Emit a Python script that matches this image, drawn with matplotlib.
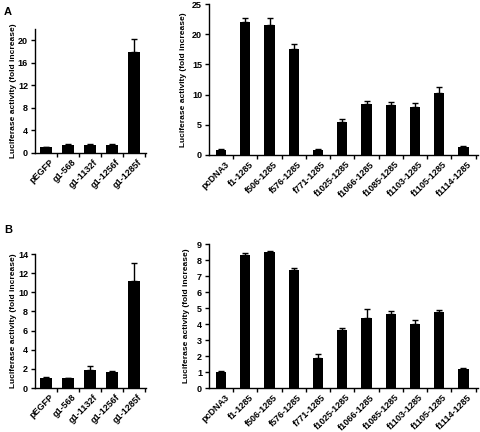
import matplotlib
matplotlib.use("Agg")
import matplotlib.pyplot as plt

# panel A, left (g1 constructs)
g1_labels = ["pEGFP", "g1-568", "g1-1132f", "g1-1256f", "g1-1285f"]
a_g1 = [1.0, 1.45, 1.5, 1.4, 18.0]
a_g1_err = [0.15, 0.1, 0.1, 0.15, 2.2]

# panel A, right (f constructs)
f_labels = ["pcDNA3", "f1-1285", "f506-1285", "f576-1285", "f771-1285",
            "f1025-1285", "f1066-1285", "f1085-1285", "f1103-1285",
            "f1105-1285", "f1114-1285"]
a_f = [0.9, 22.0, 21.5, 17.6, 0.8, 5.5, 8.4, 8.3, 8.0, 10.2, 1.3]
a_f_err = [0.15, 0.7, 1.1, 0.7, 0.15, 0.4, 0.6, 0.5, 0.6, 1.1, 0.2]

# panel B
b_g1 = [1.0, 1.0, 1.85, 1.65, 11.2]
b_g1_err = [0.2, 0.05, 0.45, 0.1, 1.85]
b_f = [0.97, 8.3, 8.5, 7.35, 1.9, 3.65, 4.35, 4.6, 4.0, 4.75, 1.2]
b_f_err = [0.08, 0.15, 0.07, 0.17, 0.25, 0.07, 0.6, 0.2, 0.25, 0.15, 0.08]

W, H = 480, 432
FONT = "Liberation Sans"
YLABEL = "Luciferase activity (fold increase)"


def px_axes(fig, left, top, right, bottom):
    return fig.add_axes([left / W, (H - bottom) / H, (right - left) / W, (bottom - top) / H])


def draw(ax, labels, vals, errs, ymax, yticks, width, xmax, lpad):
    x = list(range(len(vals)))
    ax.bar(x, vals, width=width, color="black", zorder=2)
    ax.errorbar(x, vals, yerr=[[0] * len(errs), errs], fmt="none",
                ecolor="black", elinewidth=1, capsize=2.5, capthick=1)
    ax.set_ylim(0, ymax)
    ax.set_xlim(-0.5, xmax)
    ax.set_yticks(yticks)
    ax.set_yticklabels([str(t) for t in yticks], fontsize=6.5,
                       fontweight="bold", family=FONT)
    ax.set_xticks([i + 0.5 for i in x])
    ax.set_xticklabels([])
    ax.tick_params(axis="x", length=3, width=1, direction="out")
    ax.tick_params(axis="y", length=3, width=1, direction="out", pad=2)
    for i, lab in enumerate(labels):
        ax.annotate(lab, xy=(i, 0), xycoords=("data", "axes fraction"),
                    xytext=(2.5, -3.5), textcoords="offset points",
                    rotation=45, ha="right", va="top", rotation_mode="anchor",
                    fontsize=6.5, fontweight="bold", family=FONT)
    for s in ["top", "right"]:
        ax.spines[s].set_visible(False)
    for s in ["left", "bottom"]:
        ax.spines[s].set_linewidth(1)
    ax.set_ylabel(YLABEL, fontsize=6, fontweight="bold", family=FONT, labelpad=lpad)


fig = plt.figure(figsize=(W / 100, H / 100), dpi=100)

ax1 = px_axes(fig, 35, 29, 146, 153)
draw(ax1, g1_labels, a_g1, a_g1_err, 22, [0, 4, 8, 12, 16, 20], 0.55, 4.55, 0.5)
ax2 = px_axes(fig, 209, 4, 478, 155)
draw(ax2, f_labels, a_f, a_f_err, 25, [0, 5, 10, 15, 20, 25], 0.42, 10.6, 3.5)
ax3 = px_axes(fig, 35, 254, 146, 388)
draw(ax3, g1_labels, b_g1, b_g1_err, 14, [0, 2, 4, 6, 8, 10, 12, 14], 0.55, 4.55, 0.5)
ax4 = px_axes(fig, 209, 244, 478, 388)
draw(ax4, f_labels, b_f, b_f_err, 9, list(range(10)), 0.42, 10.6, 5)

fig.text(4 / W, 1 - 12 / H, "A", fontsize=8, fontweight="bold", family=FONT, va="center")
fig.text(4 / W, 1 - 230 / H, "B", fontsize=8, fontweight="bold", family=FONT, va="center")

fig.savefig("out.png", dpi=100)
